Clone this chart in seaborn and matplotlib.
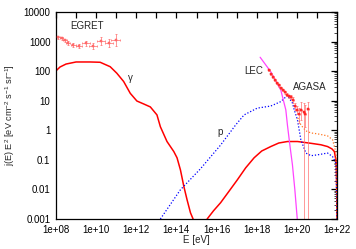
import numpy as np
import pandas as pd
import matplotlib
matplotlib.use("Agg")
import matplotlib.pyplot as plt
from matplotlib.ticker import LogLocator, FixedLocator, FixedFormatter, NullFormatter
import seaborn as sns

sns.set_style("white")
plt.rcParams['font.family'] = ['Liberation Sans', 'DejaVu Sans']
plt.rcParams['mathtext.fontset'] = 'custom'
plt.rcParams['mathtext.rm'] = 'Liberation Sans'
plt.rcParams['mathtext.it'] = 'Liberation Sans:italic'

# ---- data (log10 E [eV], log10 j E^2) ----
gamma_logE = [8.0, 8.2, 8.5, 9.0, 9.7, 10.2, 10.5, 10.7, 11.03, 11.37, 11.7, 12.03, 12.37,
              12.7, 13.03, 13.2, 13.53, 13.87, 14.03, 14.2, 14.37, 14.53, 14.7, 14.83]
gamma_logY = [2.01, 2.14, 2.24, 2.31, 2.31, 2.30, 2.21, 2.15, 1.93, 1.65, 1.25, 0.99, 0.89,
              0.79, 0.52, 0.12, -0.38, -0.72, -0.93, -1.34, -1.90, -2.35, -2.79, -3.0]

gamma2_logE = [15.53, 15.85, 16.2, 16.6, 17.03, 17.45, 17.87, 18.25, 18.7, 19.1, 19.53,
               20.03, 20.7, 21.2, 21.53, 21.75, 21.87, 21.97, 22.0]
gamma2_logY = [-3.0, -2.72, -2.45, -2.08, -1.68, -1.27, -0.93, -0.70, -0.55, -0.43, -0.38,
               -0.38, -0.44, -0.49, -0.55, -0.63, -0.72, -1.10, -3.0]

p_logE = [13.2, 14.2, 15.2, 16.2, 16.95, 17.37, 18.03, 18.7, 19.2, 19.53, 19.78, 19.87,
          20.03, 20.2, 20.45, 20.7, 21.03, 21.53, 21.78, 21.95, 22.0]
p_logY = [-3.0, -2.01, -1.30, -0.50, 0.18, 0.52, 0.75, 0.82, 0.97, 1.18, 0.92, 0.69,
          0.35, -0.32, -0.77, -0.86, -0.83, -0.77, -0.89, -1.11, -3.0]

orange_logE = [20.05, 20.2, 20.45, 20.7, 21.03, 21.53, 21.78, 21.95, 22.0]
orange_logY = [0.42, 0.18, -0.02, -0.09, -0.12, -0.19, -0.32, -0.76, -3.0]

lec_logE = [18.17, 18.7, 19.2, 19.45, 19.53, 19.65, 19.78, 19.9, 20.02]
lec_logY = [2.47, 1.98, 1.36, 0.69, 0.18, -0.49, -1.17, -2.01, -3.0]

egret_logE = [8.12, 8.28, 8.45, 8.62, 8.87, 9.17, 9.5, 9.84, 10.25, 10.62, 10.98]
egret_logY = [3.145, 3.11, 3.05, 2.96, 2.885, 2.85, 2.94, 2.86, 3.02, 2.96, 3.05]
egret_dx = [0.08, 0.08, 0.08, 0.1, 0.12, 0.15, 0.2, 0.2, 0.2, 0.2, 0.22]
egret_dy = [0.05, 0.05, 0.05, 0.06, 0.07, 0.08, 0.09, 0.1, 0.12, 0.13, 0.19]

agasa_logE = [18.6, 18.72, 18.82, 18.92, 19.02, 19.12, 19.22, 19.32, 19.42, 19.52, 19.62,
              19.72, 19.82, 19.92, 20.02, 20.12, 20.22, 20.37, 20.42, 20.57]
agasa_logY = [2.04, 1.91, 1.80, 1.70, 1.60, 1.52, 1.43, 1.36, 1.28, 1.20, 1.15,
              1.13, 1.03, 0.82, 0.69, 0.55, 0.69, 0.62, 0.55, 0.72]
agasa_dy_up = [0.03, 0.03, 0.03, 0.03, 0.03, 0.04, 0.04, 0.04, 0.05, 0.05, 0.06,
               0.07, 0.08, 0.1, 0.12, 0.2, 0.25, 0.3, 0.3, 0.25]
agasa_dy_lo = [0.03, 0.03, 0.03, 0.03, 0.03, 0.04, 0.04, 0.04, 0.05, 0.05, 0.07,
               0.08, 0.1, 0.12, 0.15, 0.3, 0.35, 9.0, 0.45, 9.0]

xtick_vals = [1e8, 1e10, 1e12, 1e14, 1e16, 1e18, 1e20, 1e22]
xtick_labels = ["1e+08", "1e+10", "1e+12", "1e+14", "1e+16", "1e+18", "1e+20", "1e+22"]
ytick_vals = [1e-3, 1e-2, 1e-1, 1, 10, 100, 1000, 10000]
ytick_labels = ["0.001", "0.01", "0.1", "1", "10", "100", "1000", "10000"]

def lin(a):
    return 10.0 ** np.asarray(a, dtype=float)

fig = plt.figure(figsize=(3.56, 2.49), dpi=100)
ax = fig.add_axes([56/356, 1-219/249, (337-56)/356, (219-12)/249])
ax.set_xscale('log')
ax.set_yscale('log')

def curve(lx, ly, **kw):
    df = pd.DataFrame({"E": lin(lx), "J": lin(ly)})
    sns.lineplot(data=df, x="E", y="J", ax=ax, sort=False, estimator=None, **kw)

curve(gamma_logE, gamma_logY, color='#ff0000', lw=1.1)
curve(gamma2_logE, gamma2_logY, color='#ff0000', lw=1.1)
curve(p_logE, p_logY, color='#0000ff', lw=0.9, linestyle=(0, (1, 1.5)))
curve(orange_logE, orange_logY, color='#ff7722', lw=0.9, linestyle=(0, (1, 1.5)))
curve(lec_logE, lec_logY, color='#ff44ff', lw=0.9)

# EGRET points
eE = lin(egret_logE); eY = lin(egret_logY)
exl = eE - lin(np.array(egret_logE) - np.array(egret_dx))
exh = lin(np.array(egret_logE) + np.array(egret_dx)) - eE
eyl = eY - lin(np.array(egret_logY) - np.array(egret_dy))
eyh = lin(np.array(egret_logY) + np.array(egret_dy)) - eY
ax.errorbar(eE, eY, xerr=[exl, exh], yerr=[eyl, eyh], fmt='none', ecolor='#ff6a6a',
            elinewidth=0.5, capsize=1.0, capthick=0.5)
sns.scatterplot(x=eE, y=eY, ax=ax, color='#ff8080', marker='s', s=3, linewidth=0.3,
                edgecolor='#ff4444', zorder=3)

# AGASA points
aE = lin(agasa_logE); aY = lin(agasa_logY)
ayl = aY - lin(np.array(agasa_logY) - np.array(agasa_dy_lo))
ayh = lin(np.array(agasa_logY) + np.array(agasa_dy_up)) - aY
axl = aE - lin(np.array(agasa_logE) - 0.05)
axh = lin(np.array(agasa_logE) + 0.05) - aE
ax.errorbar(aE, aY, xerr=[axl, axh], yerr=[ayl, ayh], fmt='none', ecolor='#ff7070',
            elinewidth=0.5, capsize=1.0, capthick=0.5)
sns.scatterplot(x=aE, y=aY, ax=ax, color='#ff4040', marker='s', s=4, linewidth=0.3,
                edgecolor='#ff0000', zorder=3)

ax.set_xlim(1e8, 1e22)
ax.set_ylim(1e-3, 1e4)

ax.xaxis.set_major_locator(FixedLocator([10.0**k for k in range(8, 23)]))
ax.xaxis.set_major_formatter(FixedFormatter(
    [xtick_labels[(k-8)//2] if (k % 2 == 0) else "" for k in range(8, 23)]))
ax.xaxis.set_minor_locator(FixedLocator([]))
ax.yaxis.set_major_locator(FixedLocator(ytick_vals))
ax.yaxis.set_major_formatter(FixedFormatter(ytick_labels))
ax.yaxis.set_minor_locator(LogLocator(base=10, subs=np.arange(2, 10), numticks=20))
ax.yaxis.set_minor_formatter(NullFormatter())

ax.tick_params(which='major', direction='in', length=4.5, width=0.9, top=True, right=True,
               labelsize=7, pad=4, colors='black')
ax.tick_params(which='minor', direction='in', length=2.2, width=0.5, top=True, right=True,
               colors='black')
for s in ax.spines.values():
    s.set_visible(True)
    s.set_color('black')
    s.set_linewidth(0.9)

ax.set_xlabel("E [eV]", fontsize=7)
ax.set_ylabel(r"j(E) E$^2$ [eV cm$^{-2}$ s$^{-1}$ sr$^{-1}$]", fontsize=6.6)
ax.xaxis.set_label_coords(0.5, -0.078)
ax.yaxis.set_label_coords(-0.14, 0.5)

ax.text(lin(8.7), lin(3.53), "EGRET", fontsize=7, ha='left', va='center')
ax.text(lin(11.7), lin(1.77), "γ", fontsize=7, ha='center', va='center')
ax.text(lin(17.87), lin(2.0), "LEC", fontsize=7, ha='center', va='center')
ax.text(lin(20.65), lin(1.48), "AGASA", fontsize=7, ha='center', va='center')
ax.text(lin(16.2), lin(-0.05), "p", fontsize=7, ha='center', va='center')

fig.savefig("out.png", dpi=100)
